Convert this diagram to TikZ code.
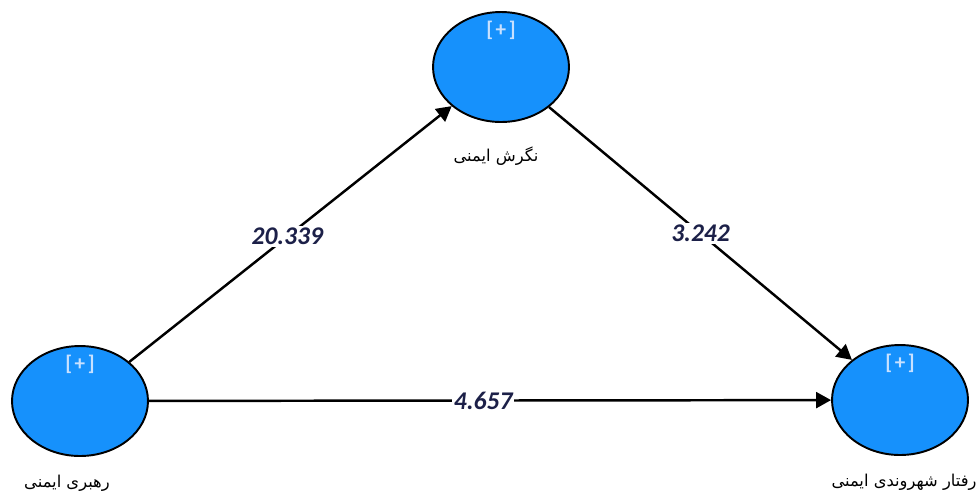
\documentclass[tikz,border=0pt]{standalone}
\usepackage{fontspec}
\setmainfont{Carlito}
\newfontfamily\arabicfont[Script=Arabic]{DejaVu Sans}
\TeXXeTstate=1
\usepackage{tikz}
\usetikzlibrary{positioning}
\usetikzlibrary{shapes.geometric}
\usetikzlibrary{arrows.meta}

\definecolor{varblue}{RGB}{22,145,252}
\definecolor{plusblue}{RGB}{200,225,255}
\definecolor{coefnavy}{RGB}{28,32,72}

\begin{document}
\begin{tikzpicture}[
    x=0.02cm, y=-0.02cm,
    latent var/.style={
        ellipse, draw=black, line width=1.1pt, fill=varblue,
        minimum width=2.72cm, minimum height=2.2cm, inner sep=0pt
    },
    plus mark/.style={
        text=plusblue, font=\fontsize{12}{13}\selectfont\bfseries, inner sep=0pt
    },
    var name/.style={
        font=\fontsize{9.3}{11}\selectfont\arabicfont, inner sep=0pt
    },
    path arrow/.style={
        line width=1.4pt,
        -{Triangle[length=0.3cm, width=0.32cm]}
    },
    coef/.style={
        fill=white, inner sep=1pt, text=coefnavy,
        font=\fontsize{14.5}{17}\selectfont\bfseries\itshape
    }
  ]

  \useasboundingbox (0,0) rectangle (979,495);

  % the three latent variables
  \node[latent var] (att) at (501,67) {};
  \node[latent var] (lead) at (80,401) {};
  \node[latent var] (beh) at (900,400) {};

  \node[plus mark] (att_plus) at ([yshift=-0.38cm]att.north) {[\hspace{0.12em}+\hspace{0.12em}]};
  \node[plus mark] (lead_plus) at ([yshift=-0.38cm]lead.north) {[\hspace{0.12em}+\hspace{0.12em}]};
  \node[plus mark] (beh_plus) at ([yshift=-0.38cm]beh.north) {[\hspace{0.12em}+\hspace{0.12em}]};

  \node[var name, below=0.48cm of att, xshift=-0.1cm] (att_name) {\beginR نگرش ایمنی\endR};
  \node[var name, below=0.36cm of lead, xshift=-0.26cm] (lead_name) {\beginR رهبری ایمنی\endR};
  \node[var name, below=0.36cm of beh, xshift=0.08cm] (beh_name) {\beginR رفتار شهروندی ایمنی\endR};

  % paths with their t values
  \draw[path arrow] (lead) -- (att) node[coef, pos=0.49] {20.339};
  \draw[path arrow] (att) -- (beh) node[coef, pos=0.5] {3.242};
  \draw[path arrow] (lead) -- (beh) node[coef, pos=0.49] {4.657};

\end{tikzpicture}
\end{document}
